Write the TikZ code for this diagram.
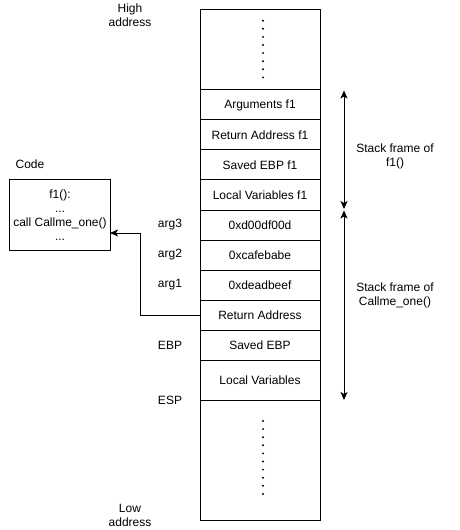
\documentclass[tikz,border=0pt]{standalone}
\usepackage{fontspec}
\setmainfont{Liberation Sans}
\usetikzlibrary{arrows.meta}
\begin{document}
\begin{tikzpicture}[x=1bp,y=-1bp,
  every node/.style={font=\fontsize{12bp}{14bp}\selectfont, inner sep=0pt, outer sep=0pt},
  cell/.style={draw, line width=1bp, minimum width=120bp, minimum height=30bp, anchor=center},
  lbl/.style={align=center},
  dotmark/.style={fill=black},
  span/.style={line width=1bp, {Stealth[length=8bp,width=7bp,inset=2bp]}-{Stealth[length=8bp,width=7bp,inset=2bp]}},
  conn/.style={line width=1bp, -{Stealth[length=8bp,width=7bp,inset=2bp]}}]
\useasboundingbox (0,0) rectangle (460,530);
% stack cells
\node[cell, minimum height=80bp] (top) at (260,50) {};
\node[cell] (args) at (260,105) {Arguments f1};
\node[cell] (raf) at (260,135) {Return Address f1};
\node[cell] (sebpf) at (260,165) {Saved EBP f1};
\node[cell] (lvf) at (260,195) {Local Variables f1};
\node[cell] (a3) at (260,225) {0xd00df00d};
\node[cell] (a2) at (260,255) {0xcafebabe};
\node[cell] (a1) at (260,285) {0xdeadbeef};
\node[cell] (ra) at (260,315) {Return Address};
\node[cell] (sebp) at (260,345) {Saved EBP};
\node[cell, minimum height=40bp] (lv) at (260,380) {Local Variables};
\node[cell, minimum height=120bp] (bot) at (260,460) {};
% dots
\foreach \i in {0,...,7} \fill[dotmark] (263,{20.7+8.1*\i}) circle (1.1bp);
\foreach \i in {0,...,9} \fill[dotmark] (263,{421+8.1*\i}) circle (1.1bp);
% side labels
\node[lbl] (hi) at (130,15) {High\\address};
\node[lbl] (lo) at (130,515) {Low\\address};
\node (l3) at (170,225) {arg3};
\node (l2) at (170,255) {arg2};
\node (l1) at (170,285) {arg1};
\node (lebp) at (170,345) {EBP};
\node (lesp) at (170,400) {ESP};
% frames
\coordinate (f1t) at (344,90.5);
\coordinate (f1b) at (344,209);
\coordinate (f2t) at (344,210.5);
\coordinate (f2b) at (344,400);
\draw[span] (f1t) -- (f1b);
\draw[span] (f2t) -- (f2b);
\node[lbl] (sf1) at (395,156) {Stack frame of\\f1()};
\node[lbl] (sf2) at (395,295) {Stack frame of\\Callme\_one()};
% code
\node (codelbl) at (30,164) {Code};
\node[draw, line width=1bp, minimum width=100bp, minimum height=70bp, align=center] (code) at (60,215)
  {f1():\\...\\call Callme\_one()\\...};
\coordinate (bend) at (140,233);
\coordinate (codein) at (code.east |- bend);
\draw[conn] (ra.west) -| (bend) -- (codein);
\end{tikzpicture}
\end{document}
